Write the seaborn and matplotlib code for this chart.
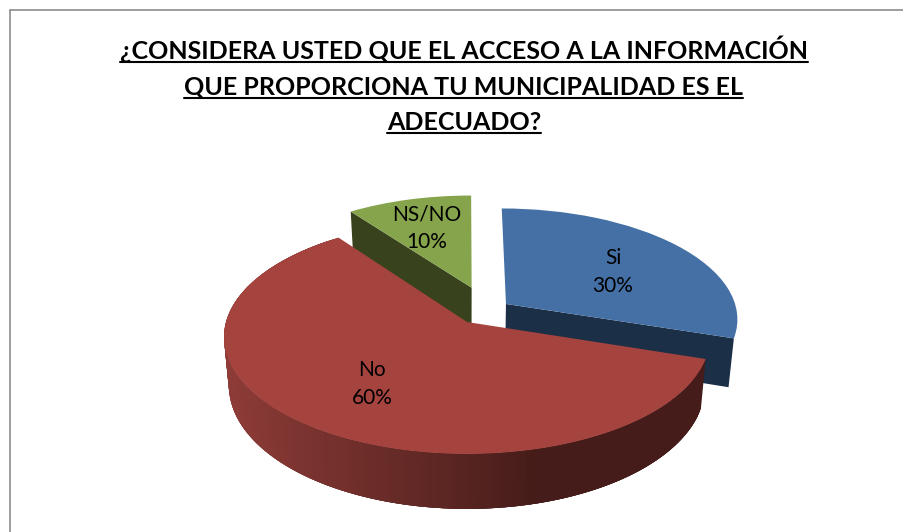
import numpy as np
import matplotlib
matplotlib.use('Agg')
import matplotlib.pyplot as plt
import matplotlib.transforms as mtransforms
import seaborn as sns

title_lines = ['¿CONSIDERA USTED QUE EL ACCESO A LA INFORMACIÓN',
               'QUE PROPORCIONA TU MUNICIPALIDAD ES EL',
               'ADECUADO?']
categories = ['Si', 'No', 'NS/NO']
percents = [30, 60, 10]

sns.set_theme(style='white')
plt.rcParams['font.family'] = ['Lato', 'DejaVu Sans']

top_colors = sns.color_palette(['#4570a6', '#a5433f', '#86a44b'])
side_colors = sns.color_palette(['#1b2f47', '#451c19', '#38421c'])

# perspective of the tilted disc, in pixels of the figure
CX, CY, RX, RY, K = 467, 322, 241, 115, 0.128
DEPTH = 48


def tilt(u, v, z=0.0):
    s = 1 / (1 + K * v)
    return CX + RX * u * s * (1 - 0.02 * z), CY - RY * v * s + DEPTH * z * s


class Tilt(mtransforms.Transform):
    input_dims = 2
    output_dims = 2

    def transform_non_affine(self, values):
        return np.column_stack(tilt(values[:, 0], values[:, 1]))


fig = plt.figure(figsize=(9.04, 5.32), dpi=100)
ax = fig.add_axes([0, 0, 1, 1])

wedges, _ = ax.pie(percents, startangle=90, counterclock=False)
ax.set_aspect('auto')
ax.set_xlim(0, 904)
ax.set_ylim(532, 0)
ax.set_axis_off()

# slices pulled away from the middle
offsets = [(0.165, 0.16), (0, 0), (0.02, 0.31)]
radii = [0.97, 1, 0.97]
for wedge, off, r, col, order in zip(wedges, offsets, radii, top_colors, [2, 4, 2]):
    wedge.set_center(off)
    wedge.set_radius(r)
    wedge.set_facecolor(col)
    wedge.set_edgecolor('none')
    wedge.set_zorder(order)
    wedge.set_transform(Tilt() + ax.transData)
    wedge.set_clip_on(False)


def radial_face(wedge, angle, color):
    cu, cv = wedge.center
    eu = cu + wedge.r * np.cos(np.radians(angle))
    ev = cv + wedge.r * np.sin(np.radians(angle))
    us, vs = np.array([cu, eu, eu, cu]), np.array([cv, ev, ev, cv])
    xs, ys = tilt(us, vs, np.array([0, 0, 1, 1]))
    ax.fill(xs, ys, color=color, lw=0, zorder=1)


radial_face(wedges[0], wedges[0].theta1, side_colors[0])
radial_face(wedges[2], wedges[2].theta2, side_colors[2])

# rim of the big slice, shaded from left to right
# each strip runs over the next ones so no seams show
angles = np.radians(np.linspace(wedges[1].theta2, wedges[1].theta1, 200))
for a0, a1 in zip(angles[:-4], angles[4:]):
    us = np.array([np.cos(a0), np.cos(a1), np.cos(a1), np.cos(a0)])
    vs = np.array([np.sin(a0), np.sin(a1), np.sin(a1), np.sin(a0)])
    xs, ys = tilt(us, vs, np.array([0, 0, 1, 1]))
    shade = np.interp(xs[0], [224, 300, 467, 540], [0, 0.25, 0.75, 1])
    col = (1 - shade) * np.array([0.56, 0.235, 0.22]) + shade * np.array(side_colors[1])
    ax.fill(xs, ys, color=col, lw=0, zorder=3)

label_x = [613, 372, 427]
label_y = [272.5, 383.5, 228.5]
for name, pct, x, y in zip(categories, percents, label_x, label_y):
    ax.text(x, y, '{}\n{}%'.format(name, pct), ha='center', va='center',
            fontsize=15, linespacing=1.5, color='black', zorder=6)

# title with underlines
renderer = fig.canvas.get_renderer()
for line, y in zip(title_lines, [59, 95, 130]):
    txt = ax.text(464, y, line, ha='center', va='baseline', fontsize=18,
                  fontweight='bold', color='black')
    box = txt.get_window_extent(renderer)
    ax.plot([box.x0, box.x1], [y + 3, y + 3], color='black', lw=1.5)

# frame of the original sheet
ax.plot([10, 10], [532, 10], color='#8c8c8c', lw=1.2)
ax.plot([10, 904], [10, 10], color='#8c8c8c', lw=1.2)

fig.savefig('out.png', dpi=100)
